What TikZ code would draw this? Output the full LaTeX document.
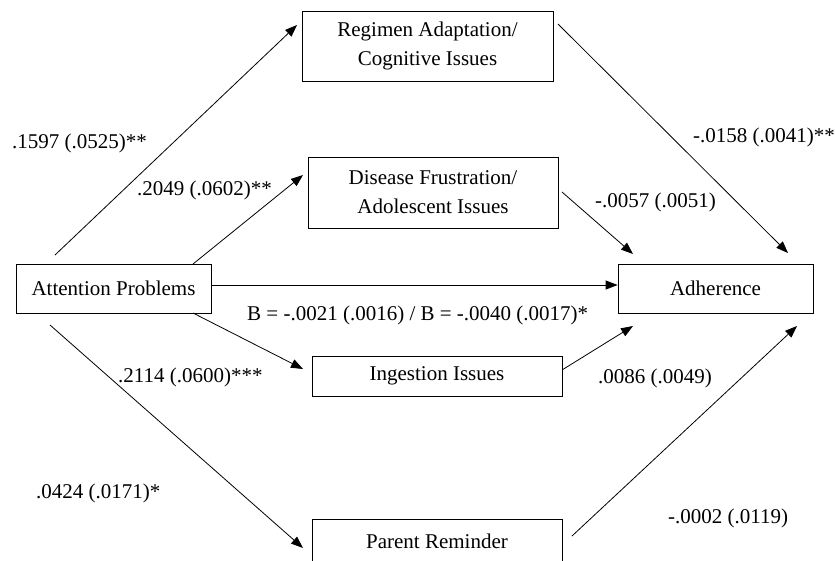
\documentclass[tikz,border=0pt]{standalone}
\usepackage{fontspec}
\setmainfont{Liberation Serif}
\usetikzlibrary{arrows.meta}
\begin{document}
\begin{tikzpicture}[x=1pt,y=-1pt,
  box/.style={draw, line width=0.8pt, inner sep=0pt, align=center, font=\fontsize{21}{29}\selectfont},
  lbl/.style={inner sep=0pt, anchor=west, font=\fontsize{21}{25}\selectfont},
  arr/.style={-{Triangle[length=12pt,width=9pt]}, line width=0.8pt}]
\useasboundingbox (0,0) rectangle (835,560);
\clip (0,0) rectangle (835,560);
% boxes
\node[box, minimum width=251pt, minimum height=70pt] (reg) at (427.5,46) {Regimen Adaptation/\\Cognitive Issues};
\node[box, minimum width=250pt, minimum height=71pt] (dis) at (433,192.5) {Disease Frustration/\\Adolescent Issues};
\node[box, minimum width=195pt, minimum height=49pt] (att) at (113.5,288.5) {Attention Problems};
\node[box, minimum width=195pt, minimum height=49pt] (adh) at (715.5,288.5) {Adherence};
\node[box, minimum width=250pt, minimum height=40pt] (ing) at (437,376) {Ingestion Issues};
\node[box, minimum width=250pt, minimum height=44pt] (par) at (437,541) {Parent Reminder};
% connector end points
\coordinate (attA) at (55,255);
\coordinate (regIn) at (297,25);
\coordinate (attB) at (193,264);
\coordinate (disIn) at (303,175);
\coordinate (regOut) at (558,24);
\coordinate (adhA) at (788,253);
\coordinate (disOut) at (562,192);
\coordinate (adhB) at (633,254);
\coordinate (attC) at (193,313);
\coordinate (ingIn) at (303,369);
\coordinate (attD) at (50,325);
\coordinate (parIn) at (303,548);
\coordinate (ingOut) at (562,370);
\coordinate (adhC) at (633,326);
\coordinate (parOut) at (572,536);
\coordinate (adhD) at (797,326);
% connectors
\draw[arr] (attA) -- (regIn);
\draw[arr] (attB) -- (disIn);
\draw[arr] (regOut) -- (adhA);
\draw[arr] (disOut) -- (adhB);
\draw[arr] ([yshift=3.5pt]att.east) -- ([yshift=3.5pt]adh.west);
\draw[arr] (attC) -- (ingIn);
\draw[arr] (attD) -- (parIn);
\draw[arr] (ingOut) -- (adhC);
\draw[arr] (parOut) -- (adhD);
% labels
\node[lbl] (l1) at (12,143) {.1597 (.0525)**};
\node[lbl] (l2) at (137,190) {.2049 (.0602)**};
\node[lbl] (l3) at (693,137) {-.0158 (.0041)**};
\node[lbl] (l4) at (595,202) {-.0057 (.0051)};
\node[lbl] (l5) at (247,315) {B = -.0021 (.0016) / B = -.0040 (.0017)*};
\node[lbl] (l6) at (118,377) {.2114 (.0600)***};
\node[lbl] (l7) at (36,493) {.0424 (.0171)*};
\node[lbl] (l8) at (598,378) {.0086 (.0049)};
\node[lbl] (l9) at (668,518) {-.0002 (.0119)};
\end{tikzpicture}
\end{document}
